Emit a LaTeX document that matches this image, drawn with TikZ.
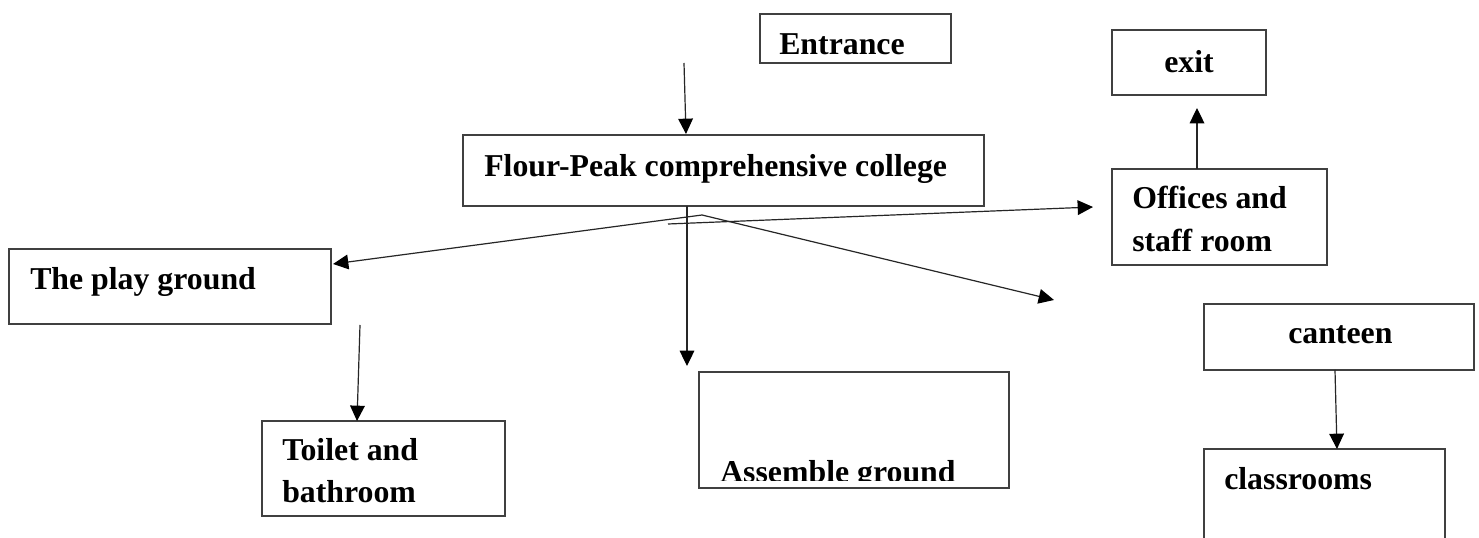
\documentclass[tikz,border=0pt]{standalone}
\usepackage{fontspec}
\setmainfont{Liberation Serif}
\usetikzlibrary{arrows.meta,fit}
\begin{document}
\begin{tikzpicture}[x=0.75pt,y=-0.75pt,
  box/.style={draw=black!75, line width=1pt, inner sep=0pt},
  lbl/.style={anchor=base west, inner sep=0pt, font=\fontsize{23.85}{28}\selectfont\bfseries},
  conn/.style={draw=black!85, line width=0.9pt, -{Triangle[length=11.5pt,width=11pt,color=black]}},
  plainline/.style={draw=black!80, line width=0.9pt}]
\useasboundingbox (0,0) rectangle (1479,538);
\fill[white] (0,0) rectangle (1479,538);

% boxes
\node[box, fit={(760,14) (951,63)}] (entrance) {};
\node[box, fit={(463,135) (984,206)}] (college) {};
\node[box, fit={(1112,30) (1266,95)}] (exitb) {};
\node[box, fit={(1112,169) (1327,265)}] (offices) {};
\node[box, fit={(9,249) (331,324)}] (play) {};
\node[box, fit={(262,421) (505,516)}] (toilet) {};
\node[box, fit={(699,372) (1009,488)}] (assemble) {};
\node[box, fit={(1204,304) (1474,370)}] (canteen) {};
\draw[draw=black!75, line width=1pt] (1204,538) -- (1204,449) -- (1445,449) -- (1445,538);
\coordinate (classtop) at (1337,449);

% texts
\node[lbl] (tentrance) at (779,55) {Entrance};
\node[lbl] (tcollege) at (484,177) {Flour-Peak comprehensive college};
\node[lbl] (texit) at (1164,73) {exit};
\node[lbl] (toff1) at (1132,209) {Offices and};
\node[lbl] (toff2) at (1132,252) {staff room};
\node[lbl] (tplay) at (30,290) {The play ground};
\node[lbl] (ttoil1) at (282,460) {Toilet and};
\node[lbl] (ttoil2) at (282,503) {bathroom};
\begin{scope}
\clip (699,372) rectangle (1009,480);
\node[lbl] (tassemble) at (720,482) {Assemble ground};
\end{scope}
\node[lbl] (tcanteen) at (1288,344) {canteen};
\node[lbl] (tclass) at (1224,489) {classrooms};

% connector end points
\coordinate (a1s) at (684,63);
\coordinate (a1e) at (686,134);
\coordinate (a2s) at (687,206);
\coordinate (a2e) at (687,366);
\coordinate (apex) at (702,215);
\coordinate (a3e) at (333,264);
\coordinate (a4e) at (1054,300);
\coordinate (a5s) at (668,224);
\coordinate (a5e) at (1093,207);
\coordinate (a6s) at (1197,169);
\coordinate (a6e) at (1197,108);
\coordinate (a7s) at (360,325);
\coordinate (a7e) at (357,421);
\coordinate (a8s) at (1335,370);

% connectors
\draw[conn] (a1s) -- (a1e);
\draw[conn] (a2s) -- (a2e);
\draw[conn] (apex) -- (a3e);
\draw[conn] (apex) -- (a4e);
\draw[conn] (a5s) -- (a5e);
\draw[conn] (a6s) -- (a6e);
\draw[conn] (a7s) -- (a7e);
\draw[conn] (a8s) -- (classtop);
\end{tikzpicture}
\end{document}
